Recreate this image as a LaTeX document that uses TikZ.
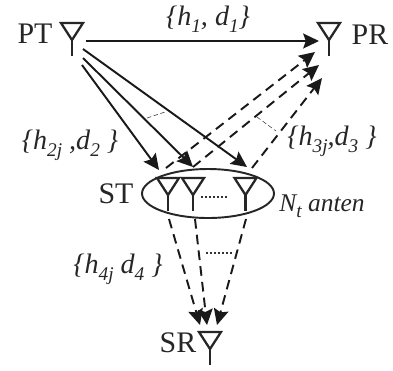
\documentclass[tikz,border=0pt]{standalone}
\usepackage{fontspec}
\setmainfont{Liberation Serif}
\usetikzlibrary{arrows.meta, shapes.geometric}
\tikzset{
	antline/.style={line width=1.3pt, black!85},
	solidlink/.style={-{Stealth[length=9pt,width=8.5pt,inset=1.5pt]}, line width=1.1pt, black!90},
	dashlink/.style={-{Stealth[length=9pt,width=8.5pt,inset=1.5pt]}, line width=1.1pt, black!90, dash pattern=on 5.5pt off 3.5pt},
	thinlink/.style={line width=0.3pt, black!80, dash pattern=on 2.5pt off 1.5pt},
	dotlink/.style={line width=1pt, black!80, dash pattern=on 1.2pt off 1.1pt},
	lab/.style={font=\fontsize{17}{19}\selectfont, inner sep=0pt, anchor=base, black!85},
	chan/.style={font=\fontsize{16}{18}\selectfont\itshape, inner sep=0pt, anchor=base, black!85}
}
% antenna: top edge, mouth and mast around a named anchor
\newcommand{\antenna}[3]{
	\coordinate (#1) at (#2,#3);
	\draw[antline] (#2-11,#3) -- (#2+11,#3) -- (#2,#3+17) -- cycle;
	\draw[antline] (#2,#3+17) -- (#2,#3+33);
}
% lowered index in the label font
\newcommand{\idx}[1]{\raisebox{-0.55ex}{\fontsize{11}{12}\selectfont #1}}
\begin{document}
\begin{tikzpicture}[x=0.02cm, y=-0.02cm, >=stealth]
	\useasboundingbox (0,0) rectangle (393,370);

	\antenna{pt}{72}{23}
	\antenna{pr}{329}{23}
	\antenna{sr}{210}{332}
	\foreach \x / \nm in {168/sta, 193/stb, 245.5/stc} {
		\antenna{\nm}{\x}{178}
	}
	\node[draw, ellipse, line width=1.1pt, black!85, minimum width=2.64cm, minimum height=0.98cm, inner sep=0pt] (st) at (208,193.5) {};

	\node[lab] (ptlab) at (35,43) {PT};
	\node[lab] (prlab) at (370,44) {PR};
	\node[lab] (stlab) at (116,203) {ST};
	\node[lab] (srlab) at (178,352) {SR};

	\coordinate (ptout) at (86,41);
	\coordinate (prin) at (319,41);
	\draw[solidlink] (ptout) -- (prin);

	% from the primary transmitter down to the array
	\foreach \sx / \sy / \ex / \ey / \nm in {82/65/159/170/pa, 83/58/193/167/pb, 83/49/247/167/pc} {
		\coordinate (\nm s) at (\sx,\sy);
		\coordinate (\nm e) at (\ex,\ey);
		\draw[solidlink] (\nm s) -- (\nm e);
	}
	% from the array up to the primary receiver
	\foreach \sx / \sy / \ex / \ey / \nm in {166/168/315/52/qa, 193/167/319/65/qb, 252/168/322/78/qc} {
		\coordinate (\nm s) at (\sx,\sy);
		\coordinate (\nm e) at (\ex,\ey);
		\draw[dashlink] (\nm s) -- (\nm e);
	}
	% from the array down to the secondary receiver
	\foreach \sx / \sy / \ex / \ey / \nm in {169/219/200/325/ra, 195/219/207/325/rb, 246/219/217/325/rc} {
		\coordinate (\nm s) at (\sx,\sy);
		\coordinate (\nm e) at (\ex,\ey);
		\draw[dashlink] (\nm s) -- (\nm e);
	}

	\coordinate (arca) at (147,118);
	\coordinate (arcb) at (165,112);
	\coordinate (arcc) at (257,117);
	\coordinate (arcd) at (276,131);
	\draw[thinlink] (arca) -- (arcb);
	\draw[thinlink] (arcc) -- (arcd);

	\coordinate (dota) at (201,197);
	\coordinate (dotb) at (228,197);
	\coordinate (dotc) at (206,253);
	\coordinate (dotd) at (232,253);
	\draw[dotlink] (dota) -- (dotb);
	\draw[dotlink] (dotc) -- (dotd);

	\node[chan] (chone) at (208,25) {\{h\idx{1}, d\idx{1}\}};
	\node[chan] (chtwo) at (70,149) {\{h\idx{2j} ,d\idx{2} \}};
	\node[chan] (chthree) at (332,145) {\{h\idx{3j},d\idx{3} \}};
	\node[chan] (chfour) at (118,273) {\{h\idx{4j} d\idx{4} \}};
	\node[chan, font=\fontsize{14.5}{16}\selectfont\itshape] (ntlab) at (322,211) {N\idx{t} anten};
\end{tikzpicture}
\end{document}
